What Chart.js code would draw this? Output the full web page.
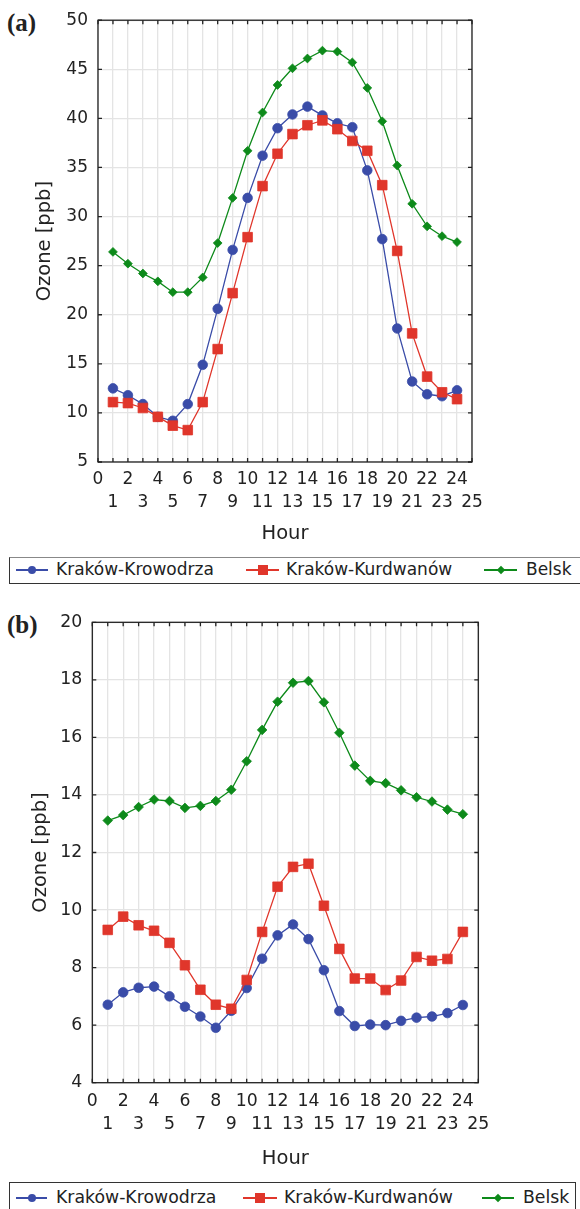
<!DOCTYPE html>
<html>
<head>
<meta charset="utf-8">
<script src="https://cdn.jsdelivr.net/npm/chart.js@4/dist/chart.umd.min.js"></script>
<style>
  html, body { margin: 0; padding: 0; background: #fff; overflow: hidden; }
  body { width: 580px; height: 1209px; position: relative; font-family: "DejaVu Sans", sans-serif; color: #222; }
  canvas { position: absolute; left: 0; }
  .panel { position: absolute; left: 7px; font-family: "Liberation Serif", serif; font-weight: bold; font-size: 25px; line-height: 1; color: #222; }
  .legend { position: absolute; left: 9px; border: 1.3px solid #333; box-sizing: border-box; }
  .item-line { position: absolute; height: 1.4px; }
  .item-mark { position: absolute; }
  .item-text { position: absolute; font-size: 17px; line-height: 1; white-space: nowrap; color: #222; }
</style>
</head>
<body>
<div class="panel" style="top:10px">(a)</div>
<canvas id="chartA" width="580" height="550" style="top:0"></canvas>
<div class="legend" id="legendA" style="top:557px; width:600px; height:27px; border-top-color:#888"></div>

<div class="panel" style="top:612px">(b)</div>
<canvas id="chartB" width="580" height="575" style="top:600px"></canvas>
<div class="legend" id="legendB" style="top:1182px; width:567px; height:40px"></div>

<script>
// Data
const hours = [1, 2, 3, 4, 5, 6, 7, 8, 9, 10, 11, 12, 13, 14, 15, 16, 17, 18, 19, 20, 21, 22, 23, 24];
const seriesNames = ['Kraków-Krowodrza', 'Kraków-Kurdwanów', 'Belsk'];

// (a)
const krowodrzaA = [12.5, 11.8, 10.9, 9.6, 9.2, 10.9, 14.9, 20.6, 26.6, 31.9, 36.2, 39.0, 40.4, 41.2, 40.3, 39.5, 39.1, 34.7, 27.7, 18.6, 13.2, 11.9, 11.7, 12.3];
const kurdwanowA = [11.1, 11.0, 10.5, 9.6, 8.7, 8.25, 11.1, 16.5, 22.2, 27.9, 33.1, 36.4, 38.4, 39.3, 39.8, 38.9, 37.7, 36.7, 33.2, 26.5, 18.1, 13.7, 12.1, 11.4];
const belskA = [26.4, 25.2, 24.2, 23.4, 22.3, 22.3, 23.8, 27.3, 31.9, 36.7, 40.6, 43.4, 45.1, 46.1, 46.9, 46.8, 45.7, 43.1, 39.7, 35.2, 31.3, 29.0, 28.0, 27.4];

// (b)
const krowodrzaB = [6.71, 7.14, 7.3, 7.34, 7.0, 6.64, 6.3, 5.91, 6.5, 7.29, 8.31, 9.12, 9.5, 8.99, 7.91, 6.49, 5.97, 6.02, 6.0, 6.15, 6.26, 6.3, 6.42, 6.7];
const kurdwanowB = [9.31, 9.77, 9.47, 9.28, 8.86, 8.08, 7.23, 6.71, 6.57, 7.57, 9.24, 10.81, 11.5, 11.61, 10.15, 8.65, 7.62, 7.62, 7.22, 7.55, 8.37, 8.24, 8.3, 9.24];
const belskB = [13.11, 13.3, 13.58, 13.84, 13.79, 13.55, 13.62, 13.79, 14.18, 15.17, 16.26, 17.24, 17.9, 17.96, 17.22, 16.16, 15.02, 14.49, 14.41, 14.16, 13.92, 13.77, 13.49, 13.33];

// Axis ranges
const xRange = [0, 25];
const yRangeA = [5, 50, 5];
const yRangeB = [4, 20, 2];

const colors = ['#3a4ca8', '#e0362b', '#0d8a1a'];
const shapes = ['circle', 'rect', 'rectRot'];

const FONT = '"DejaVu Sans", sans-serif';

// frame + inward tick marks
const framePlugin = {
    id: 'frame',
    afterDraw(chart) {
        const { ctx, chartArea: a, scales: { x, y } } = chart;
        ctx.save();
        ctx.strokeStyle = '#222';
        ctx.lineWidth = 1.3;
        ctx.beginPath();
        x.ticks.forEach(t => {
            const px = x.getPixelForValue(t.value);
            ctx.moveTo(px, a.top); ctx.lineTo(px, a.top + 4);
            ctx.moveTo(px, a.bottom); ctx.lineTo(px, a.bottom - 4);
        });
        y.ticks.forEach(t => {
            const py = y.getPixelForValue(t.value);
            ctx.moveTo(a.left, py); ctx.lineTo(a.left + 4, py);
            ctx.moveTo(a.right, py); ctx.lineTo(a.right - 4, py);
        });
        ctx.stroke();
        ctx.strokeRect(a.left, a.top, a.right - a.left, a.bottom - a.top);
        ctx.restore();
    }
};

function makeDatasets(values, radii) {
    return values.map((vals, i) => ({
        label: seriesNames[i],
        data: hours.map((h, k) => ({ x: h, y: vals[k] })),
        borderColor: colors[i],
        backgroundColor: colors[i],
        borderWidth: 1.3,
        pointStyle: shapes[i],
        pointRadius: radii[i],
        pointBorderWidth: 0.8,
        pointBackgroundColor: colors[i],
        pointBorderColor: colors[i],
        tension: 0,
        order: [2, 1, 3][i]
    }));
}

function makeChart(id, values, yRange, geo) {
    const ctx = document.getElementById(id).getContext('2d');
    return new Chart(ctx, {
        type: 'line',
        data: { datasets: makeDatasets(values, geo.radii) },
        plugins: [framePlugin],
        options: {
            responsive: false,
            animation: false,
            devicePixelRatio: 1,
            layout: { padding: { left: 0, top: geo.top, right: geo.right, bottom: 0 } },
            plugins: { legend: { display: false }, tooltip: { enabled: false } },
            scales: {
                x: {
                    type: 'linear',
                    min: xRange[0],
                    max: xRange[1],
                    afterFit: s => { s.height = geo.xHeight; },
                    afterBuildTicks: s => {
                        const t = [];
                        for (let v = xRange[0]; v <= xRange[1]; v++) t.push({ value: v });
                        s.ticks = t;
                    },
                    ticks: {
                        autoSkip: false,
                        maxRotation: 0,
                        padding: geo.xPad,
                        color: '#222',
                        font: { family: FONT, size: geo.tickSize, lineHeight: geo.tickLH },
                        callback: v => (v % 2 === 0 ? [String(v), ''] : ['', String(v)])
                    },
                    grid: { color: '#e4e4e4', lineWidth: 1.3, drawTicks: false },
                    border: { display: false },
                    title: {
                        display: true,
                        text: 'Hour',
                        color: '#222',
                        font: { family: FONT, size: 19.5 },
                        padding: { top: 0, bottom: geo.titleBottom }
                    }
                },
                y: {
                    min: yRange[0],
                    max: yRange[1],
                    afterFit: s => { s.width = geo.yWidth; },
                    ticks: {
                        stepSize: yRange[2],
                        padding: 10,
                        color: '#222',
                        font: { family: FONT, size: geo.tickSize }
                    },
                    grid: { color: '#e4e4e4', lineWidth: 1.3, drawTicks: false },
                    border: { display: false },
                    title: {
                        display: true,
                        text: 'Ozone [ppb]',
                        color: '#222',
                        font: { family: FONT, size: 19.5 },
                        padding: { top: geo.titleLeft, bottom: 0 }
                    }
                }
            }
        }
    });
}

makeChart('chartA', [krowodrzaA, kurdwanowA, belskA], yRangeA, {
    top: 20, right: 108, yWidth: 98, xHeight: 88, xPad: 6, tickSize: 17, tickLH: 1.35,
    titleBottom: 4, titleLeft: 33, radii: [4.8, 6.8, 4.4]
});

makeChart('chartB', [krowodrzaB, kurdwanowB, belskB], yRangeB, {
    top: 22.3, right: 101.7, yWidth: 92.3, xHeight: 92.3, xPad: 8, tickSize: 17.3, tickLH: 1.3,
    titleBottom: 4, titleLeft: 29, radii: [4.8, 6.8, 4.8]
});

// HTML legends
function buildLegend(id, layout) {
    const box = document.getElementById(id);
    seriesNames.forEach((name, i) => {
        const it = layout.items[i];
        const line = document.createElement('span');
        line.className = 'item-line';
        line.style.left = (it.line[0] - 9) + 'px';
        line.style.width = (it.line[1] - it.line[0]) + 'px';
        line.style.top = (layout.cy - 0.7) + 'px';
        line.style.background = colors[i];
        box.appendChild(line);

        const mk = document.createElement('span');
        mk.className = 'item-mark';
        const c = (it.line[0] + it.line[1]) / 2 - 9;
        const s = [8, 10, 6][i];
        mk.style.width = s + 'px';
        mk.style.height = s + 'px';
        mk.style.left = (c - s / 2) + 'px';
        mk.style.top = (layout.cy - s / 2) + 'px';
        mk.style.background = colors[i];
        if (i === 0) mk.style.borderRadius = '50%';
        if (i === 2) mk.style.transform = 'rotate(45deg)';
        box.appendChild(mk);

        const tx = document.createElement('span');
        tx.className = 'item-text';
        tx.textContent = name;
        tx.style.left = (it.text - 9) + 'px';
        tx.style.top = (layout.cy - 9) + 'px';
        tx.style.fontSize = layout.size + 'px';
        box.appendChild(tx);
    });
}

buildLegend('legendA', {
    cy: 12, size: 17,
    items: [{ line: [15, 47], text: 55 }, { line: [245, 278], text: 285 }, { line: [483, 516], text: 525 }]
});
buildLegend('legendB', {
    cy: 15, size: 17.3,
    items: [{ line: [15, 46], text: 55 }, { line: [242, 276], text: 283 }, { line: [481, 513], text: 522 }]
});
</script>
</body>
</html>
